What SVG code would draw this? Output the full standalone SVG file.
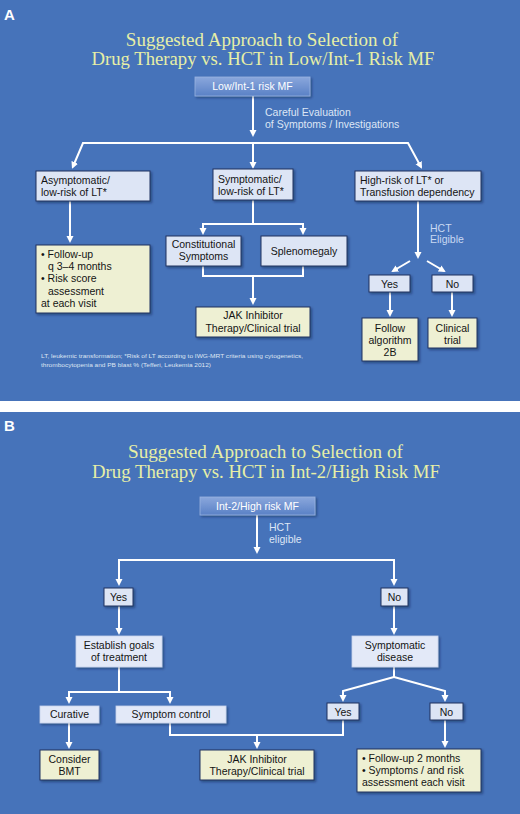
<svg xmlns="http://www.w3.org/2000/svg" width="520" height="814" viewBox="0 0 520 814">
<defs>
<marker id="ah" markerUnits="userSpaceOnUse" markerWidth="8" markerHeight="8" refX="5" refY="3.5" orient="auto">
<path d="M0,0 L7,3.5 L0,7 z" fill="#ffffff"/>
</marker>
<linearGradient id="topg" x1="0" y1="0" x2="0" y2="1">
<stop offset="0" stop-color="#8aa7dc"/>
<stop offset="1" stop-color="#5a81c6"/>
</linearGradient>
<filter id="sh" x="-10%" y="-10%" width="130%" height="140%">
<feDropShadow dx="1.5" dy="1.5" stdDeviation="0.8" flood-color="#0a1a3a" flood-opacity="0.45"/>
</filter>
<style>
.bg{fill:#4673ba}
.title{font-family:"Liberation Serif","Times New Roman",serif;font-size:19px;fill:#e6efa6;text-anchor:middle}
.plabel{font-family:"Liberation Sans",Arial,sans-serif;font-size:15px;font-weight:bold;fill:#ffffff}
.t{font-family:"Liberation Sans",Arial,sans-serif;font-size:10.5px;fill:#141414}
.c{text-anchor:middle}
.tw{font-family:"Liberation Sans",Arial,sans-serif;font-size:10.5px;fill:#ffffff;text-anchor:middle}
.lbl{font-family:"Liberation Sans",Arial,sans-serif;font-size:10.5px;fill:#dde6f5}
.lblb{font-family:"Liberation Sans",Arial,sans-serif;font-size:10.5px;fill:#c9d9f2}
.fn{font-family:"Liberation Sans",Arial,sans-serif;font-size:5.8px;fill:#dde5f2}
.bx{fill:#dde5f5;stroke:#1f3361;stroke-width:1;filter:url(#sh)}
.by{fill:#eef0d3;stroke:#1f3361;stroke-width:1;filter:url(#sh)}
.bl{fill:#e3e9f8;stroke:#c5d1ec;stroke-width:0.8;filter:url(#sh)}
.bt{fill:url(#topg);stroke:#9ab3e0;stroke-width:0.8;filter:url(#sh)}
.cn path{fill:none;stroke:#ffffff;stroke-width:2}
.cn .a{marker-end:url(#ah)}
</style>
</defs>

<rect x="0" y="0" width="520" height="814" fill="#ffffff"/>
<rect class="bg" x="0" y="0" width="520" height="401"/>
<rect class="bg" x="0" y="412" width="520" height="402"/>

<!-- Panel A -->
<text class="plabel" x="4" y="20">A</text>
<text class="title" x="262" y="46">Suggested Approach to Selection of</text>
<text class="title" x="263" y="65" textLength="343" lengthAdjust="spacingAndGlyphs">Drug Therapy vs. HCT in Low/Int-1 Risk MF</text>

<g class="cn">
<path class="a" d="M253,96 V135"/>
<path class="a" d="M253,143 H83 L72.8,167"/>
<path class="a" d="M253,143 H408 L421,167"/>
<path class="a" d="M253,143 V167"/>
<path class="a" d="M70,201 V241"/>
<path d="M253,200 V224"/>
<path class="a" d="M253,224 H203 V233"/>
<path class="a" d="M253,224 H303 V233"/>
<path d="M203,266 V276 H303 V266"/>
<path class="a" d="M253,276 V303"/>
<path class="a" d="M418,201 V257"/>
<path class="a" d="M410,261 L393,271"/>
<path class="a" d="M427,261 L444,271"/>
<path class="a" d="M390,292 V315"/>
<path class="a" d="M452,292 V315"/>
</g>

<text class="lbl" x="265" y="116">Careful Evaluation</text>
<text class="lbl" x="265" y="128">of Symptoms / Investigations</text>
<text class="lblb" x="430" y="232">HCT</text>
<text class="lblb" x="430" y="243">Eligible</text>

<g id="a-top">
<rect class="bt" x="195" y="77" width="115" height="19"/>
<text class="tw" x="252.5" y="90">Low/Int-1 risk MF</text>
</g>
<g id="a-asym">
<rect class="bx" x="36" y="171" width="114" height="30"/>
<text class="t" x="41" y="184">Asymptomatic/</text>
<text class="t" x="41" y="196">low-risk of LT*</text>
</g>
<g id="a-sym">
<rect class="bx" x="213" y="169" width="80" height="31"/>
<text class="t" x="218" y="183">Symptomatic/</text>
<text class="t" x="218" y="195">low-risk of LT*</text>
</g>
<g id="a-high">
<rect class="bx" x="355" y="171" width="126" height="30"/>
<text class="t" x="360" y="184">High-risk of LT* or</text>
<text class="t" x="360" y="196">Transfusion dependency</text>
</g>
<g id="a-follow">
<rect class="by" x="36" y="245" width="114" height="68"/>
<text class="t" x="41" y="258">• Follow-up</text>
<text class="t" x="48" y="270">q 3–4 months</text>
<text class="t" x="41" y="282">• Risk score</text>
<text class="t" x="48" y="295">assessment</text>
<text class="t" x="41" y="307">at each visit</text>
</g>
<g id="a-const">
<rect class="bx" x="166" y="236" width="75" height="30"/>
<text class="t c" x="203.5" y="248">Constitutional</text>
<text class="t c" x="203.5" y="260">Symptoms</text>
</g>
<g id="a-spleno">
<rect class="bx" x="261" y="236" width="86" height="30"/>
<text class="t c" x="304" y="255">Splenomegaly</text>
</g>
<g id="a-jak">
<rect class="by" x="196" y="307" width="114" height="30"/>
<text class="t c" x="253" y="319">JAK Inhibitor</text>
<text class="t c" x="253" y="332">Therapy/Clinical trial</text>
</g>
<g id="a-yes">
<rect class="bx" x="369" y="275" width="41" height="17"/>
<text class="t c" x="389.5" y="288">Yes</text>
</g>
<g id="a-no">
<rect class="bx" x="432" y="275" width="41" height="17"/>
<text class="t c" x="452.5" y="288">No</text>
</g>
<g id="a-algo">
<rect class="by" x="362" y="318" width="56" height="43"/>
<text class="t c" x="390" y="332">Follow</text>
<text class="t c" x="390" y="344">algorithm</text>
<text class="t c" x="390" y="356">2B</text>
</g>
<g id="a-clin">
<rect class="by" x="428" y="318" width="49" height="30"/>
<text class="t c" x="452.5" y="332">Clinical</text>
<text class="t c" x="452.5" y="344">trial</text>
</g>

<text class="fn" x="41" y="358" textLength="262" lengthAdjust="spacingAndGlyphs">LT, leukemic transformation; *Risk of LT according to IWG-MRT criteria using cytogenetics,</text>
<text class="fn" x="41" y="367" textLength="170" lengthAdjust="spacingAndGlyphs">thrombocytopenia and PB blast % (Tefferi, Leukemia 2012)</text>

<!-- Panel B -->
<text class="plabel" x="4" y="431">B</text>
<text class="title" x="265.5" y="458" textLength="275" lengthAdjust="spacingAndGlyphs">Suggested Approach to Selection of</text>
<text class="title" x="266" y="478" textLength="348" lengthAdjust="spacingAndGlyphs">Drug Therapy vs. HCT in Int-2/High Risk MF</text>

<g class="cn">
<path class="a" d="M257,515 V552"/>
<path class="a" d="M257,560 H119 V584"/>
<path class="a" d="M257,560 H394 V584"/>
<path class="a" d="M119,606 V633"/>
<path class="a" d="M394,606 V633"/>
<path d="M119,667 V692"/>
<path class="a" d="M119,692 H69 V702"/>
<path class="a" d="M119,692 H170 V702"/>
<path class="a" d="M69,723 V747"/>
<path d="M170,723 V735 H343 V720"/>
<path class="a" d="M257,735 V747"/>
<path d="M394,667 V677"/>
<path class="a" d="M394,677 L343,691 V700"/>
<path class="a" d="M394,677 L445,691 V700"/>
<path class="a" d="M445,720 V746"/>
</g>

<text class="lbl" x="269" y="531">HCT</text>
<text class="lbl" x="269" y="543">eligible</text>

<g id="b-top">
<rect class="bt" x="200" y="497" width="115" height="18"/>
<text class="tw" x="257.5" y="510">Int-2/High risk MF</text>
</g>
<g id="b-yes">
<rect class="bx" x="104" y="588" width="29" height="18"/>
<text class="t c" x="118.5" y="601">Yes</text>
</g>
<g id="b-no">
<rect class="bx" x="381" y="588" width="27" height="18"/>
<text class="t c" x="394.5" y="601">No</text>
</g>
<g id="b-goals">
<rect class="bl" x="76" y="636" width="86" height="31"/>
<text class="t c" x="119" y="649">Establish goals</text>
<text class="t c" x="119" y="661">of treatment</text>
</g>
<g id="b-symdis">
<rect class="bl" x="352" y="636" width="86" height="31"/>
<text class="t c" x="395" y="649">Symptomatic</text>
<text class="t c" x="395" y="661">disease</text>
</g>
<g id="b-cur">
<rect class="bl" x="40" y="706" width="59" height="17"/>
<text class="t c" x="69.5" y="718">Curative</text>
</g>
<g id="b-sc">
<rect class="bl" x="116" y="706" width="110" height="17"/>
<text class="t c" x="171" y="718">Symptom control</text>
</g>
<g id="b-yes2">
<rect class="bx" x="327" y="703" width="32" height="17"/>
<text class="t c" x="343" y="716">Yes</text>
</g>
<g id="b-no2">
<rect class="bx" x="430" y="703" width="33" height="17"/>
<text class="t c" x="446.5" y="716">No</text>
</g>
<g id="b-bmt">
<rect class="by" x="40" y="750" width="59" height="30"/>
<text class="t c" x="69.5" y="763">Consider</text>
<text class="t c" x="69.5" y="775">BMT</text>
</g>
<g id="b-jak">
<rect class="by" x="200" y="750" width="114" height="30"/>
<text class="t c" x="257" y="763">JAK Inhibitor</text>
<text class="t c" x="257" y="775">Therapy/Clinical trial</text>
</g>
<g id="b-follow">
<rect class="by" x="357" y="749" width="124" height="43"/>
<text class="t" x="362" y="762">• Follow-up 2 months</text>
<text class="t" x="362" y="774">• Symptoms / and risk</text>
<text class="t" x="362" y="786">assessment each visit</text>
</g>
</svg>
